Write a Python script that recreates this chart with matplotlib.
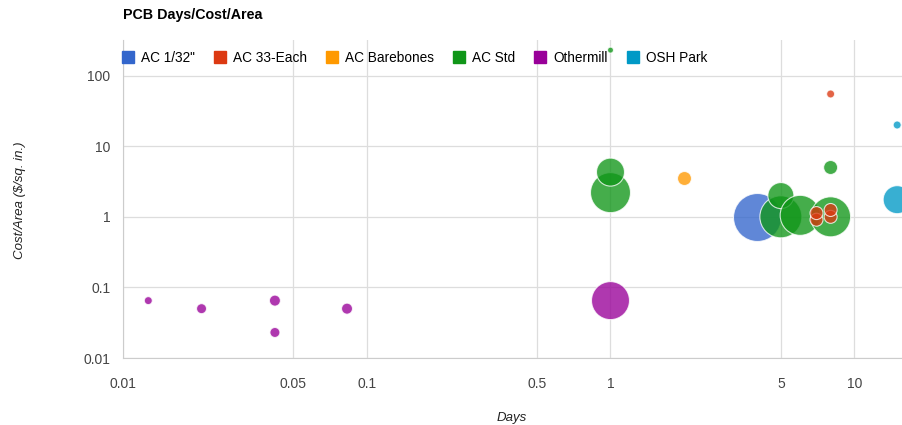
import matplotlib.pyplot as plt
from matplotlib.lines import Line2D

plt.rcParams['font.family'] = ['Liberation Sans', 'DejaVu Sans']

# Bubble data: days, cost per area ($/sq. in.), bubble size
series = ['AC 1/32"', 'AC 33-Each', 'AC Barebones', 'AC Std', 'Othermill', 'OSH Park']

ac132_days = [4]
ac132_cost = [1.0]
ac132_size = [24]

ac33_days = [8, 7, 7, 8, 8]
ac33_cost = [55, 0.91, 1.13, 1.0, 1.25]
ac33_size = [4, 6.5, 6.5, 6.5, 6.5]

bare_days = [2]
bare_cost = [3.6]
bare_size = [7]

std_days = [1, 1, 1, 5, 5, 6, 8, 8]
std_cost = [230, 2.2, 4.3, 1.0, 2.0, 1.05, 1.0, 5.0]
std_size = [3, 20, 14, 21, 13, 20, 20, 7]

other_days = [0.0127, 0.021, 0.042, 0.042, 0.083, 1]
other_cost = [0.065, 0.05, 0.065, 0.023, 0.05, 0.065]
other_size = [4, 5, 5.5, 5, 5.5, 19]

osh_days = [15, 15]
osh_cost = [20, 1.75]
osh_size = [4, 14]

colors = ['#3366cc', '#dc3912', '#ff9900', '#109618', '#990099', '#0099c6']
layers = [3, 5, 3, 3, 3, 3]

data = [
    (ac132_days, ac132_cost, ac132_size),
    (ac33_days, ac33_cost, ac33_size),
    (bare_days, bare_cost, bare_size),
    (std_days, std_cost, std_size),
    (other_days, other_cost, other_size),
    (osh_days, osh_cost, osh_size),
]

xticks = [0.01, 0.05, 0.1, 0.5, 1, 5, 10]
yticks = [0.01, 0.1, 1, 10, 100]

fig = plt.figure(figsize=(9.02, 4.25), dpi=100)
ax = fig.add_axes([123 / 902, 67 / 425, 779 / 902, 318 / 425])
ax.set_xscale('log')
ax.set_yscale('log')
ax.set_xlim(0.01, 15.7)
ax.set_ylim(0.01, 320)

for (xs, ys, rs), c, z in zip(data, colors, layers):
    # radius in px -> marker area in pt^2
    s = [(1.44 * r) ** 2 for r in rs]
    ax.scatter(xs, ys, s=s, color=c, alpha=0.78, edgecolors='white',
               linewidths=0.8, zorder=z)

ax.set_xticks(xticks)
ax.set_xticklabels([f'{t:g}' for t in xticks])
ax.set_yticks(yticks)
ax.set_yticklabels([f'{t:g}' for t in yticks])
ax.minorticks_off()
ax.tick_params(length=0, labelsize=10, colors='#444444')
ax.tick_params(axis='x', pad=14)
ax.tick_params(axis='y', pad=9)
ax.grid(True, color='#dddddd', linewidth=0.9, zorder=0)
for side in ['top', 'right']:
    ax.spines[side].set_visible(False)
for side in ['left', 'bottom']:
    ax.spines[side].set_color('#cccccc')

ax.set_xlabel('Days', style='italic', fontsize=9.5, color='#222222')
ax.xaxis.set_label_coords((512 - 123) / 779, -(418 - 358) / 318)
ax.xaxis.label.set_va('center')
ax.set_ylabel('Cost/Area ($/sq. in.)', style='italic', fontsize=9.5,
              color='#222222')
ax.yaxis.set_label_coords(-(123 - 20) / 779, (358 - 200) / 318)
ax.yaxis.label.set_va('center')

fig.text(123 / 902, 1 - 15 / 425, 'PCB Days/Cost/Area', fontsize=10.3,
         fontweight='bold', va='center', ha='left')

handles = [Line2D([], [], marker='s', linestyle='none', markersize=9,
                  color=c) for c in colors]
ax.legend(handles, series, loc='upper left', bbox_to_anchor=(-0.0105, 0.986),
          ncol=6, frameon=False, fontsize=9.8, handletextpad=0.5,
          columnspacing=1.4, handlelength=0.9, borderaxespad=0.2,
          borderpad=0.3)

fig.savefig('out.png', dpi=100)
